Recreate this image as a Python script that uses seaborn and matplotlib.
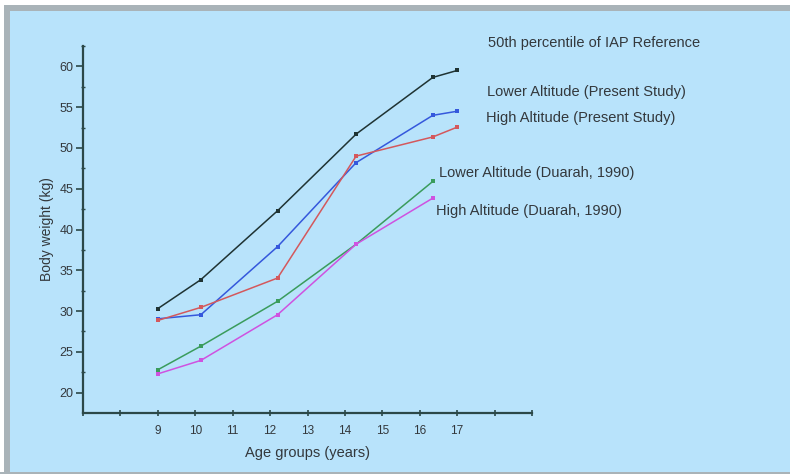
import numpy as np
import pandas as pd
import matplotlib
matplotlib.use("Agg")
import matplotlib.pyplot as plt
from matplotlib.patches import Rectangle
from matplotlib.ticker import FixedLocator
import seaborn as sns

# Age (years) at which each group was measured
age_full = [9, 10.15, 12.2, 14.3, 16.35, 17]
age_duarah = [9, 10.15, 12.2, 14.3, 16.35]

# Mean body weight (kg)
iap_reference = [30.3, 33.85, 42.3, 51.7, 58.65, 59.5]
lower_present = [29.05, 29.55, 37.9, 48.2, 54.0, 54.5]
high_present = [28.85, 30.45, 34.05, 49.0, 51.35, 52.55]
lower_duarah = [22.8, 25.7, 31.2, 38.2, 45.9]
high_duarah = [22.3, 23.95, 29.55, 38.2, 43.85]

series_names = [
    "50th percentile of IAP Reference",
    "Lower Altitude (Present Study)",
    "High Altitude (Present Study)",
    "Lower Altitude (Duarah, 1990)",
    "High Altitude (Duarah, 1990)",
]
series_colors = ["#1f3333", "#3558dc", "#d4585c", "#3a9c5c", "#cf52e0"]

x_tick_labels = ["9", "10", "11", "12", "13", "14", "15", "16", "17"]
y_tick_values = [20, 25, 30, 35, 40, 45, 50, 55, 60]

frames = []
for name, xs, ys in zip(
    series_names,
    [age_full, age_full, age_full, age_duarah, age_duarah],
    [iap_reference, lower_present, high_present, lower_duarah, high_duarah],
):
    frames.append(pd.DataFrame({"age": xs, "weight": ys, "series": name}))
df = pd.concat(frames, ignore_index=True)

bg = "#b8e3fb"
axis_col = "#2b4848"
text_col = "#33383c"

sns.set_style("white")
plt.rcParams["font.family"] = ["Liberation Sans", "DejaVu Sans"]

fig = plt.figure(figsize=(7.9, 4.74), dpi=100)
fig.patch.set_facecolor(bg)

# window-style frame round the plot
W, H = 790, 474
fig.patches.append(Rectangle((0, 0), 4 / W, 1, transform=fig.transFigure,
                             facecolor="white", edgecolor="none", zorder=0))
fig.patches.append(Rectangle((0, 1 - 5 / H), 1, 5 / H, transform=fig.transFigure,
                             facecolor="white", edgecolor="none", zorder=0))
fig.patches.append(Rectangle((4 / W, 0), 6 / W, 1 - 5 / H, transform=fig.transFigure,
                             facecolor="#a9b3b8", edgecolor="none", zorder=0))
fig.patches.append(Rectangle((4 / W, 1 - 11 / H), 1, 6 / H, transform=fig.transFigure,
                             facecolor="#a9b3b8", edgecolor="none", zorder=0))
fig.patches.append(Rectangle((0, 0), 1, 2 / H, transform=fig.transFigure,
                             facecolor="#a9b3b8", edgecolor="none", zorder=0))

ax = fig.add_axes([83 / W, 1 - 413 / H, (532 - 83) / W, (413 - 46) / H])
ax.set_facecolor("none")

sns.lineplot(
    data=df, x="age", y="weight", hue="series", hue_order=series_names,
    palette=series_colors, sort=False, estimator=None, marker="s",
    markersize=3, markeredgewidth=0, linewidth=1.1, legend=False, ax=ax,
)

ax.set_xlim(7, 19)
ax.set_ylim(17.5, 62.5)

ax.xaxis.set_major_locator(FixedLocator(np.arange(7, 20, 1)))
ax.set_xticklabels([""] * 2 + x_tick_labels + [""] * 2)
ax.yaxis.set_major_locator(FixedLocator(y_tick_values))
ax.yaxis.set_minor_locator(FixedLocator(np.arange(22.5, 63, 5)))

for side in ["top", "right"]:
    ax.spines[side].set_visible(False)
for side in ["left", "bottom"]:
    ax.spines[side].set_color(axis_col)
    ax.spines[side].set_linewidth(1.6)

ax.tick_params(axis="y", which="both", left=True)
ax.tick_params(axis="x", which="both", bottom=True)
ax.tick_params(axis="y", which="major", direction="out", length=5, width=1.2,
               color=axis_col, labelsize=9, labelcolor=text_col, pad=2)
ax.tick_params(axis="y", which="minor", direction="inout", length=3, width=1,
               color=axis_col)
ax.tick_params(axis="x", which="major", direction="inout", length=4, width=1.2,
               color=axis_col, labelsize=8.5, labelcolor=text_col, pad=7)

ax.set_xlabel("Age groups (years)", fontsize=10.5, color=text_col, labelpad=6)
ax.set_ylabel("Body weight (kg)", fontsize=10, color=text_col, labelpad=4)

# series labels placed beside the curve ends
label_pos = [(488, 43), (487, 92), (486, 118), (439, 173), (436, 211)]
for name, (px, py) in zip(series_names, label_pos):
    fig.text(px / W, 1 - py / H, name, fontsize=10.5, color=text_col,
             ha="left", va="center")

fig.savefig("out.png", dpi=100, facecolor=fig.get_facecolor())
